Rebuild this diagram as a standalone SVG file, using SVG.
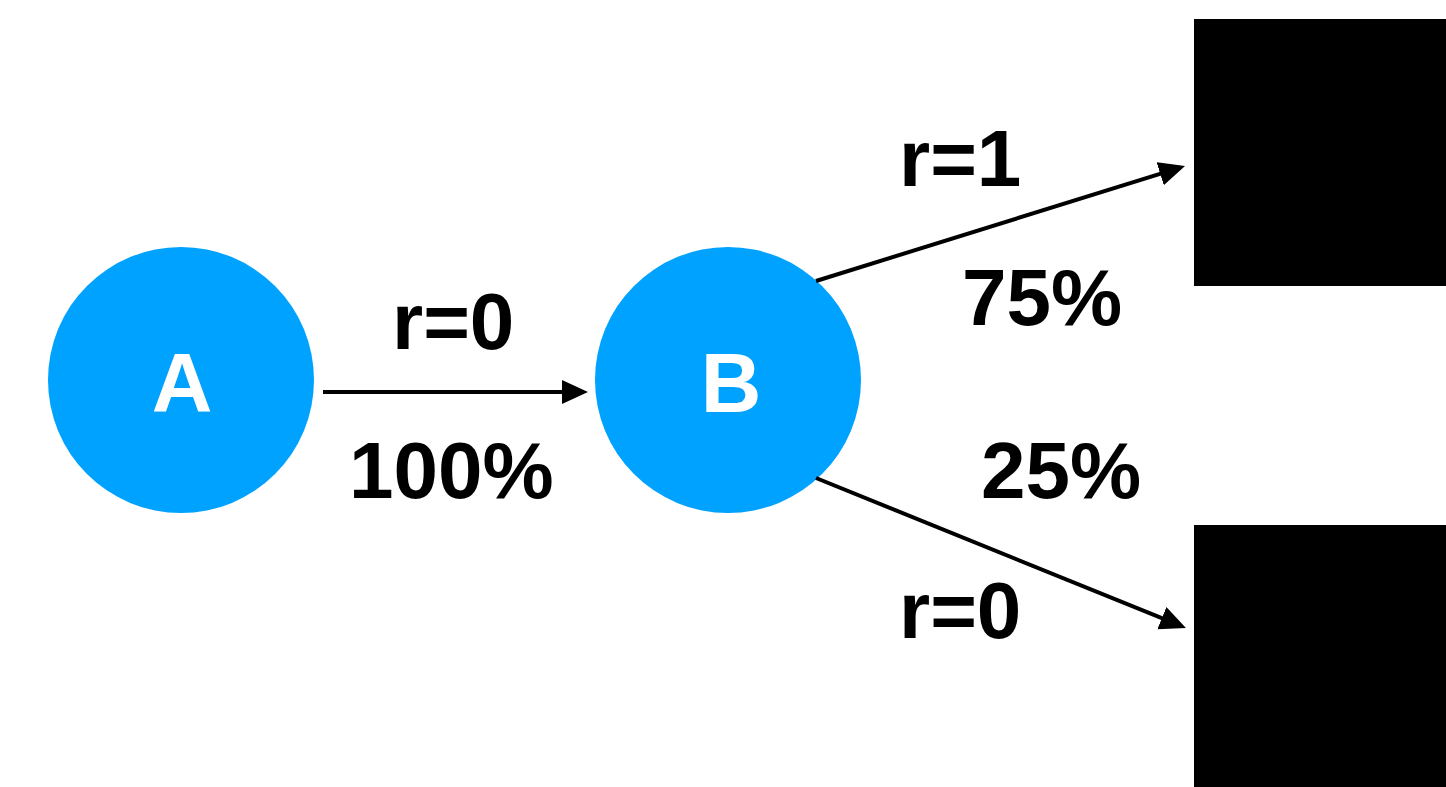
<svg xmlns="http://www.w3.org/2000/svg" width="1446" height="787" viewBox="0 0 1446 787">
<style>
.node{fill:#00A2FF}
.nl{fill:#fff;font-family:"Liberation Sans",Arial,sans-serif;font-weight:bold;font-size:84px;text-anchor:middle}
.lbl{fill:#000;font-family:"Liberation Sans",Arial,sans-serif;font-weight:bold;font-size:80px}
.edge{stroke:#000;stroke-width:4;fill:none;marker-end:url(#ah)}
.box{fill:#000}
</style>
<defs>
<marker id="ah" markerUnits="userSpaceOnUse" markerWidth="30" markerHeight="30" refX="20" refY="12" orient="auto">
<path d="M0,0 L26,12 L0,24 z" fill="#000"/>
</marker>
</defs>
<rect width="1446" height="787" fill="#fff"/>
<g id="A"><circle class="node" cx="181" cy="380" r="133"/><text class="nl" x="182" y="412">A</text></g>
<g id="B"><circle class="node" cx="728" cy="380" r="133"/><text class="nl" x="731" y="412">B</text></g>
<g id="R1"><rect class="box" x="1194" y="19" width="252" height="267"/></g>
<g id="R2"><rect class="box" x="1194" y="525" width="252" height="262"/></g>
<g id="edges">
<line class="edge" x1="323" y1="392" x2="582" y2="392"/>
<line class="edge" x1="816" y1="281" x2="1179.3" y2="167.8"/>
<line class="edge" x1="816" y1="478" x2="1180.4" y2="625.7"/>
</g>
<g id="labels">
<text class="lbl" x="392" y="349">r=0</text>
<text class="lbl" x="349" y="498">100%</text>
<text class="lbl" x="899" y="186">r=1</text>
<text class="lbl" x="962" y="325">75%</text>
<text class="lbl" x="981" y="498">25%</text>
<text class="lbl" x="899" y="638">r=0</text>
</g>
</svg>
